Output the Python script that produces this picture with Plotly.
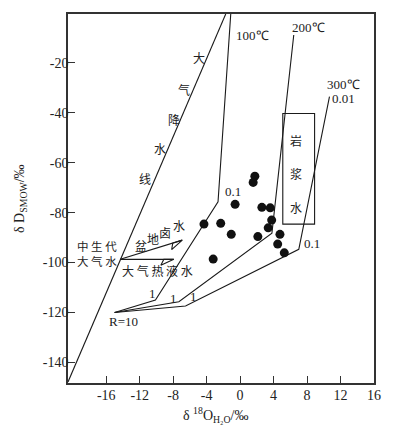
import plotly.graph_objects as go
import numpy as np

# ---------------- data ----------------
# sample points (δ18O_H2O, δD)
pt_x = [1.76, 1.56, -0.60, 2.60, 3.60, 3.77, 3.36, -4.32, -2.32, -1.06, 2.12, 4.76, 4.49, 5.28, -3.22]
pt_y = [-65.4, -67.9, -76.7, -77.9, -78.1, -83.0, -86.1, -84.6, -84.3, -88.7, -89.6, -88.7, -92.6, -96.1, -98.6]

# meteoric water line
mwl_x = [-20.57, -1.72]
mwl_y = [-147.8, -0.5]

# water-rock exchange curves (R=10 -> 1 -> 0.1 -> 0.01)
c100_x = [-15.0, -10.12, -2.64, -1.12]
c100_y = [-120.0, -115.0, -75.7, -0.5]
c200_x = [-15.0, -7.32, 3.80, 6.41]
c200_y = [-120.0, -115.7, -88.2, -8.9]
c300_x = [-15.0, -6.52, 7.01, 10.68]
c300_y = [-120.0, -117.4, -94.7, -33.6]

# magmatic water box
box_x = [5.1, 8.9]
box_y = [-84.6, -40.3]

# arrows (start, end)
arrow_start = (-14.32, -98.7)
arrow_ends = [(-6.91, -91.0), (-7.92, -98.7)]

x_ticks = [-16, -12, -8, -4, 0, 4, 8, 12, 16]
y_ticks = [-140, -120, -100, -80, -60, -40, -20]
x_range = [-20.57, 16.0]
y_range = [-148.2, -0.5]

# ---------------- figure ----------------
OFF = 8  # page body margin
W, H = 399 - OFF, 430 - OFF
L, T = 68 - OFF, 14 - OFF
R = W - (374 - OFF)
B = H - (383 - OFF)
pw, ph = W - L - R, H - T - B
sx = pw / (x_range[1] - x_range[0])
sy = ph / (y_range[1] - y_range[0])

LC = "#1a1a1a"
fig = go.Figure()

def add_line(xs, ys):
    fig.add_trace(go.Scatter(x=xs, y=ys, mode="lines", line=dict(color=LC, width=1.1),
                             hoverinfo="skip", showlegend=False))

add_line(mwl_x, mwl_y)
add_line(c100_x, c100_y)
add_line(c200_x, c200_y)
add_line(c300_x, c300_y)

# arrows with open half-triangle heads
for ex, ey in arrow_ends:
    sx0, sy0 = arrow_start
    add_line([sx0, ex], [sy0, ey])
    dxp, dyp = (ex - sx0) * sx, (ey - sy0) * sy
    n = np.hypot(dxp, dyp)
    ux, uy = dxp / n, dyp / n
    px, py = -uy, ux  # perpendicular (upwards side)
    a = (ex - (13 * ux + 6 * px) / sx, ey - (13 * uy + 6 * py) / sy)
    b = (ex - (10 * ux) / sx, ey - (10 * uy) / sy)
    add_line([ex, a[0], b[0], ex], [ey, a[1], b[1], ey])

fig.add_trace(go.Scatter(x=pt_x, y=pt_y, mode="markers",
                         marker=dict(color="#111111", size=9, line=dict(width=0)),
                         hoverinfo="skip", showlegend=False))

fig.add_shape(type="rect", x0=box_x[0], x1=box_x[1], y0=box_y[0], y1=box_y[1],
              line=dict(color=LC, width=1.1))

SERIF = "Liberation Serif, Times New Roman, serif"
CJK = "Noto Sans CJK SC"

def txt(x, y, s, font=SERIF, size=13, xanchor="center"):
    fig.add_annotation(x=x, y=y, text=s, showarrow=False, xanchor=xanchor, yanchor="middle",
                       font=dict(family=font, size=size, color="#222"))

txt(1.52, -9.0, "100℃")
txt(8.12, -6.1, "200℃")
txt(12.32, -28.6, "300℃")
txt(12.32, -34.2, "0.01")
txt(-0.88, -71.4, "0.1")
txt(8.6, -92.2, "0.1")
txt(-13.94, -123.4, "R=10")
txt(-10.51, -112.3, "1")
txt(-7.92, -114.3, "1")
txt(-5.52, -113.7, "1")

for (x, y, s) in [(6.68, -51.0, "岩"), (6.68, -64.2, "浆"), (6.68, -77.8, "水"),
                  (-4.96, -18.1, "大"), (-6.76, -30.9, "气"), (-7.96, -42.9, "降"),
                  (-9.52, -54.2, "水"), (-11.32, -66.2, "线"),
                  (-11.8, -93.0, "盆"), (-10.36, -90.2, "地"), (-8.92, -87.8, "卤"), (-7.36, -85.0, "水")]:
    txt(x, y, s, font=CJK, size=12)

txt(-17.1, -96.4, "中 生 代<br>大 气 水", font=CJK, size=11.5)
txt(-9.88, -103.0, "大 气 热 液 水", font=CJK, size=12)

# axis titles as annotations (paper coords, positions given in page pixels)
def paper_x(px_page):
    return (px_page - OFF - L) / pw

def paper_y(py_page):
    return ((T + ph) - (py_page - OFF)) / ph

fig.add_annotation(xref="paper", yref="paper", x=paper_x(216), y=paper_y(415),
                   text="δ <sup>18</sup>O<sub>H₂O</sub>/‰", showarrow=False,
                   xanchor="center", yanchor="middle",
                   font=dict(family=SERIF, size=14, color="#222"))
fig.add_annotation(xref="paper", yref="paper", x=paper_x(21), y=paper_y(199),
                   text="δ D<sub>SMOW</sub>/‰", showarrow=False, textangle=-90,
                   xanchor="center", yanchor="middle",
                   font=dict(family=SERIF, size=14, color="#222"))

axis_common = dict(showline=True, linecolor="#333", linewidth=1.5, mirror=True,
                   ticks="inside", ticklen=7, tickcolor="#333", tickwidth=1.2,
                   showgrid=False, zeroline=False, automargin=False,
                   tickfont=dict(family=SERIF, size=14, color="#222"))

fig.update_xaxes(range=x_range, tickvals=x_ticks, ticktext=[str(v) for v in x_ticks],
                 ticklabelstandoff=-2, **axis_common)
fig.update_yaxes(range=y_range, tickvals=y_ticks, ticktext=[str(v) for v in y_ticks],
                 ticklabelstandoff=-5, **axis_common)

fig.update_layout(width=W, height=H, margin=dict(l=L, r=R, t=T, b=B, autoexpand=False),
                  paper_bgcolor="white", plot_bgcolor="white")

fig.write_html("out.html")
